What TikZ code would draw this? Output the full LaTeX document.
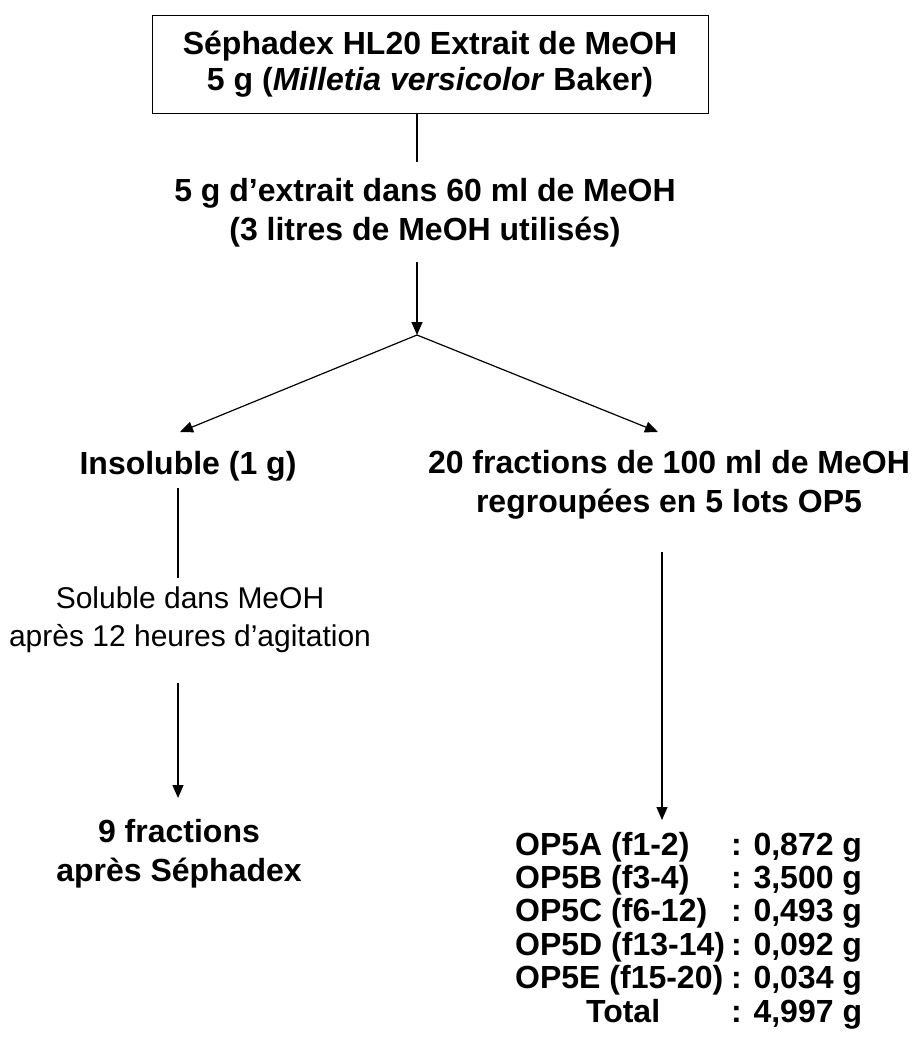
\documentclass[tikz,border=0pt]{standalone}
\usepackage{fontspec}
\setmainfont{Liberation Sans}
\usetikzlibrary{arrows.meta,positioning}
\tikzset{
  titlebox/.style={draw, line width=1pt, minimum width=556pt, minimum height=98pt, align=center, font=\bfseries\fontsize{32}{36}\selectfont},
  boldtext/.style={align=center, inner sep=0pt, font=\bfseries\fontsize{32}{39}\selectfont},
  plaintext/.style={align=center, inner sep=0pt, font=\fontsize{30}{38}\selectfont},
  line/.style={-{Triangle[length=13pt, width=11pt]}, line width=1.2pt},
  plainline/.style={line width=1.2pt}
}

\begin{document}
\begin{tikzpicture}[x=1pt, y=-1pt]
  \useasboundingbox (0,0) rectangle (918,1050);

  \node[titlebox] (box) at (430,64) {Séphadex HL20 Extrait de MeOH\\5 g (\textit{Milletia versicolor} Baker)};
  \node[boldtext] (extr) at (425,213) {5 g d’extrait dans 60 ml de MeOH\\(3 litres de MeOH utilisés)};
  \node[boldtext] (insol) at (188,466) {Insoluble (1 g)};
  \node[boldtext] (frac) at (669,485) {20 fractions de 100 ml de MeOH\\regroupées en 5 lots OP5};
  \node[plaintext] (solub) at (190,620) {Soluble dans MeOH\\après 12 heures d’agitation};
  \node[boldtext] (neuf) at (179,854) {9 fractions\\après Séphadex};
  \node[anchor=base west, inner sep=0pt, font=\bfseries\fontsize{32}{33.4}\selectfont] (lots) at (515,855) {%
    \begin{tabular}[t]{@{}l@{\hspace{6pt}}l@{}}
      OP5A (f1-2) & : 0,872 g\\
      OP5B (f3-4) & : 3,500 g\\
      OP5C (f6-12) & : 0,493 g\\
      OP5D (f13-14) & : 0,092 g\\
      OP5E (f15-20) & : 0,034 g\\
      \multicolumn{1}{c}{Total} & : 4,997 g
    \end{tabular}};

  % ends of the connectors
  \coordinate (split) at (417,335);
  \coordinate (extrIn) at (417,162);
  \coordinate (extrOut) at (417,262);
  \coordinate (insolIn) at (180,432);
  \coordinate (fracIn) at (658,432);
  \coordinate (insolOut) at (178,488);
  \coordinate (solubIn) at (178,578);
  \coordinate (solubOut) at (178,683);
  \coordinate (neufIn) at (178,798);
  \coordinate (fracOut) at (662,552);
  \coordinate (lotsIn) at (662,820);

  \draw[plainline] (box.south -| extrIn) -- (extrIn);
  \draw[line] (extrOut) -- (split);
  \draw[line] (split) -- (insolIn);
  \draw[line] (split) -- (fracIn);
  \draw[plainline] (insolOut) -- (solubIn);
  \draw[line] (solubOut) -- (neufIn);
  \draw[line] (fracOut) -- (lotsIn);
\end{tikzpicture}
\end{document}
